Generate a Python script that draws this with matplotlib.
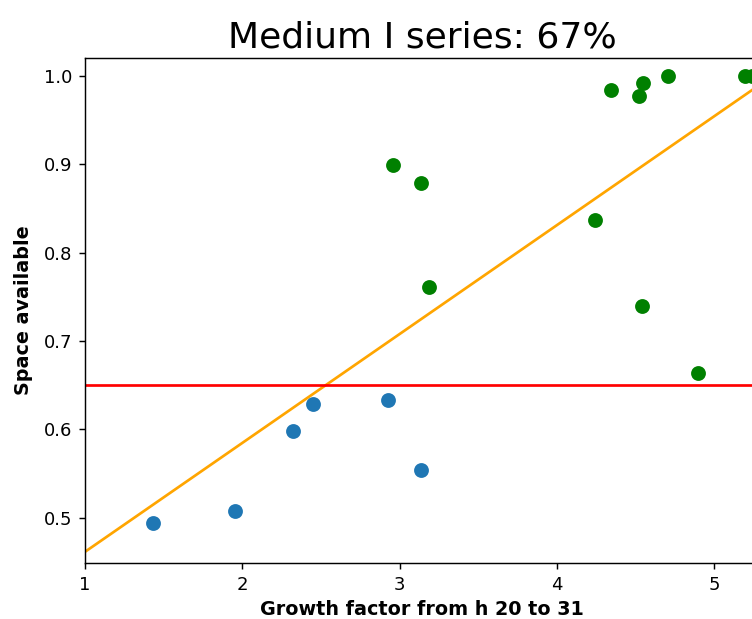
import matplotlib
matplotlib.use("Agg")
import matplotlib.pyplot as plt
import numpy as np

# Samples below the threshold
low_x = [1.43, 1.955, 2.322, 2.449, 2.926, 3.136]
low_y = [0.494, 0.508, 0.598, 0.629, 0.633, 0.554]

# Samples above the threshold
high_x = [2.958, 3.136, 3.187, 4.242, 4.344, 4.522, 4.547, 4.541, 4.706, 4.897, 5.196, 5.24]
high_y = [0.8995, 0.879, 0.761, 0.837, 0.984, 0.977, 0.992, 0.740, 1.0, 0.664, 1.0, 1.0]

# Linear trend and threshold
slope = 0.1232
intercept = 0.3384
threshold = 0.65

title = "Medium I series: 67%"
xlabel = "Growth factor from h 20 to 31"
ylabel = "Space available"

DPI = 130
fig = plt.figure(figsize=(752 / DPI, 619 / DPI), dpi=DPI)
ax = fig.add_axes([0.113, 0.0905, 0.8963, 0.8155])

ax.scatter(low_x, low_y, color="#1f77b4", s=52, zorder=3)
ax.scatter(high_x, high_y, color="green", s=52, zorder=3)

xs = np.array([1.0, 5.3])
ax.plot(xs, intercept + slope * xs, color="orange", lw=1.5, zorder=2)
ax.axhline(threshold, color="red", lw=1.5, zorder=2)

ax.set_xlim(1, 5.284)
ax.set_ylim(0.449, 1.02)
ax.set_xticks([1, 2, 3, 4, 5])
ax.set_yticks([0.5, 0.6, 0.7, 0.8, 0.9, 1.0])
ax.tick_params(labelsize=10)
ax.set_title(title, fontsize=20)
ax.set_xlabel(xlabel, fontweight="bold", fontsize=10.6, labelpad=3.5)
ax.set_ylabel(ylabel, fontweight="bold", fontsize=10.6, labelpad=6)

fig.savefig("out.png", dpi=DPI)
